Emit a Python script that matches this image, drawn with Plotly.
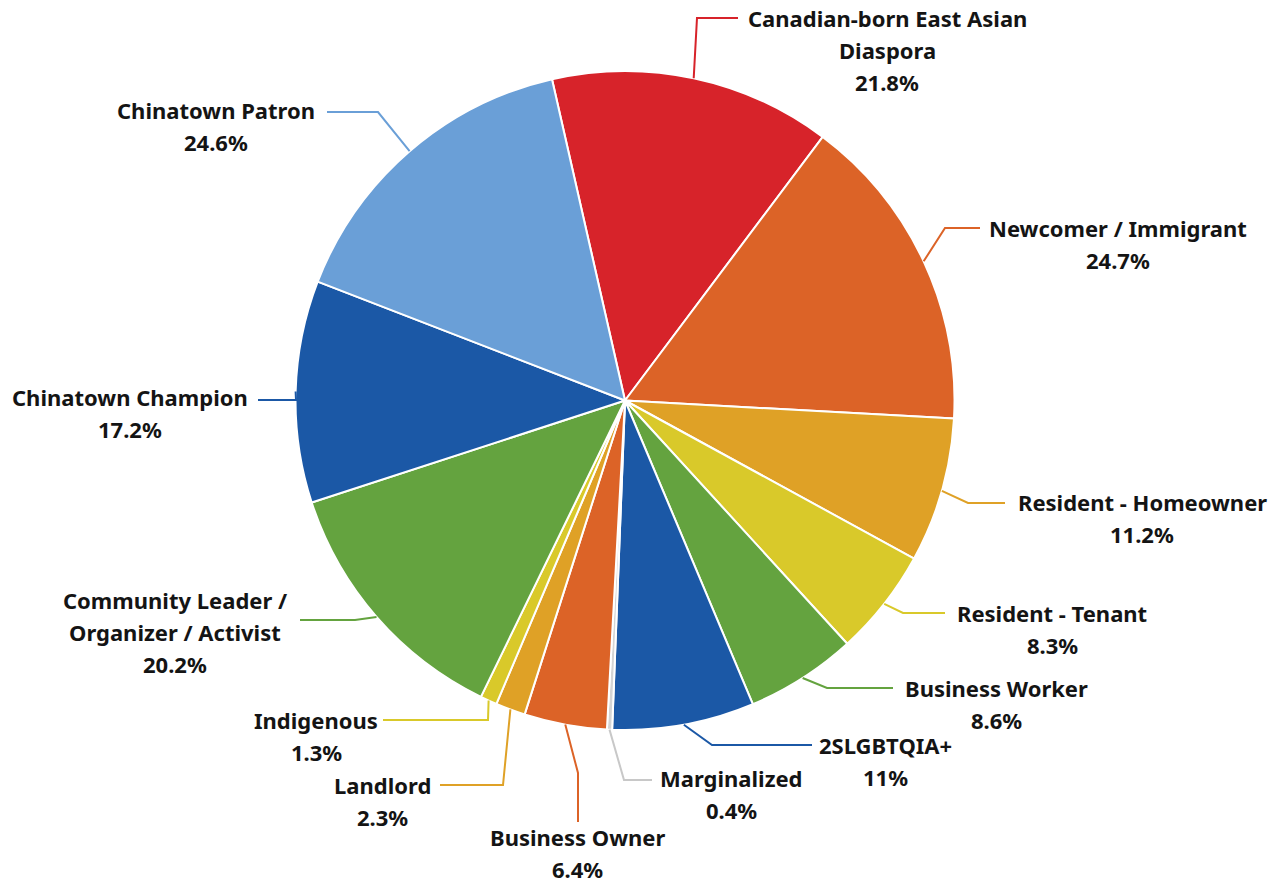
import math
import plotly.graph_objects as go

# ---- data -------------------------------------------------------------
categories = [
    "Canadian-born East Asian Diaspora",
    "Newcomer / Immigrant",
    "Resident - Homeowner",
    "Resident - Tenant",
    "Business Worker",
    "2SLGBTQIA+",
    "Marginalized",
    "Business Owner",
    "Landlord",
    "Indigenous",
    "Community Leader / Organizer / Activist",
    "Chinatown Champion",
    "Chinatown Patron",
]
percent = [21.8, 24.7, 11.2, 8.3, 8.6, 11, 0.4, 6.4, 2.3, 1.3, 20.2, 17.2, 24.6]

# how each category name is broken over lines in its label
label_lines = {
    "Canadian-born East Asian Diaspora": ["Canadian-born East Asian", "Diaspora"],
    "Community Leader / Organizer / Activist": ["Community Leader /", "Organizer / Activist"],
}

colors = [
    "#d7232a", "#dc6327", "#dfa126", "#d9c92a", "#64a33f", "#1b58a6", "#d4d4d4",
    "#dc6327", "#dfa126", "#d9c92a", "#64a33f", "#1b58a6", "#6a9fd7",
]

# ---- layout -----------------------------------------------------------
W, H = 1282, 884
CX, CY, R = 625.0, 400.5, 329.5
ROTATION = -12.8
FONT = dict(family="Noto Sans, Open Sans, sans-serif", size=22, color="#141414", weight="bold")
LINE_GAP = 32

# leader-line bend points and label block placement (pixels)
label_layout = {
    "Canadian-born East Asian Diaspora": dict(path=[(697, 18), (738, 18)], tx=887, ty=18),
    "Newcomer / Immigrant": dict(path=[(945, 228), (980, 228)], tx=1118, ty=228),
    "Resident - Homeowner": dict(path=[(968, 503), (1005, 503)], tx=1142, ty=502),
    "Resident - Tenant": dict(path=[(903, 613), (945, 613)], tx=1052, ty=613),
    "Business Worker": dict(path=[(827, 688), (893, 688)], tx=996, ty=688),
    "2SLGBTQIA+": dict(path=[(712, 745), (812, 745)], tx=885, ty=745),
    "Marginalized": dict(path=[(624, 780), (652, 780)], tx=731, ty=778),
    "Business Owner": dict(path=[(578, 773), (578, 822)], tx=577, ty=837),
    "Landlord": dict(path=[(503, 785), (440, 785)], tx=382, ty=785),
    "Indigenous": dict(path=[(488, 720), (383, 720)], tx=316, ty=720),
    "Community Leader / Organizer / Activist": dict(path=[(355, 620), (300, 620)], tx=175, ty=600),
    "Chinatown Champion": dict(path=[(296, 400), (258, 400)], tx=130, ty=397),
    "Chinatown Patron": dict(path=[(378, 112), (327, 112)], tx=216, ty=110),
}


def px_x(x):
    return x / W


def px_y(y):
    return 1 - y / H


fig = go.Figure(
    go.Pie(
        labels=categories,
        values=percent,
        sort=False,
        direction="clockwise",
        rotation=ROTATION,
        marker=dict(colors=colors, line=dict(color="white", width=2)),
        textinfo="none",
        hovertemplate="%{label}: %{value}%<extra></extra>",
        showlegend=False,
        domain=dict(
            x=[px_x(CX - R), px_x(CX + R)],
            y=[px_y(CY + R), px_y(CY - R)],
        ),
    )
)

# ---- leader lines and labels -------------------------------------------
total = sum(percent)
start = ROTATION
shapes = []
annotations = []
for name, val, col in zip(categories, percent, colors):
    span = val / total * 360.0
    mid = math.radians(start + span / 2)
    start += span
    sx, sy = CX + R * math.sin(mid), CY - R * math.cos(mid)

    lay = label_layout[name]
    pts = [(sx, sy)] + lay["path"]
    d = "M " + " L ".join(f"{px_x(x):.5f},{px_y(y):.5f}" for x, y in pts)
    line_col = "#c8c8c8" if name == "Marginalized" else col
    shapes.append(dict(type="path", path=d, xref="paper", yref="paper",
                       line=dict(color=line_col, width=2), layer="above"))

    lines = label_lines.get(name, [name]) + [f"{val:g}%"]
    for i, txt in enumerate(lines):
        annotations.append(dict(
            text=txt, x=px_x(lay["tx"]), y=px_y(lay["ty"] + i * LINE_GAP),
            xref="paper", yref="paper", xanchor="center", yanchor="middle",
            showarrow=False, font=FONT, borderpad=0,
        ))

fig.update_layout(
    width=W, height=H,
    margin=dict(l=0, r=0, t=0, b=0),
    paper_bgcolor="white",
    plot_bgcolor="white",
    shapes=shapes,
    annotations=annotations,
)

fig.write_html("out.html")
